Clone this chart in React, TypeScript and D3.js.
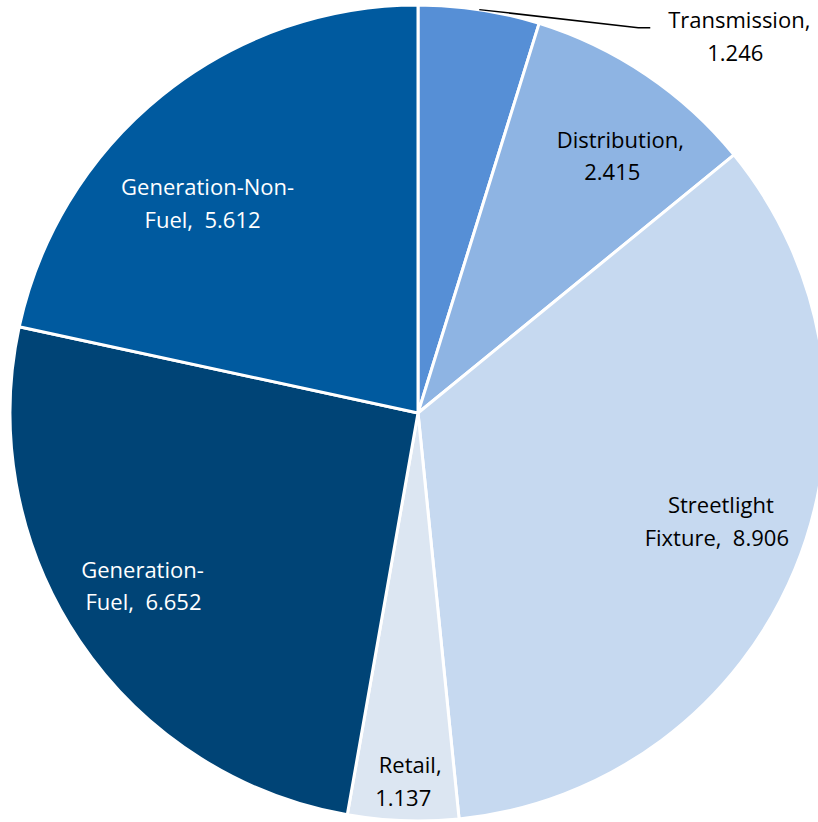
import React from "react";
import * as d3 from "d3";

const categories = ["Transmission", "Distribution", "Streetlight Fixture", "Retail", "Generation-Fuel", "Generation-Non-Fuel"];
const values = [1.246, 2.415, 8.906, 1.137, 6.652, 5.612];

const labelLines: string[][] = [
  ["Transmission,", "1.246"],
  ["Distribution,", "2.415"],
  ["Streetlight", "Fixture,  8.906"],
  ["Retail,", "1.137"],
  ["Generation-", "Fuel,  6.652"],
  ["Generation-Non-", "Fuel,  5.612"],
];
const colors = ["#568fd6", "#8eb4e3", "#c6d9f0", "#dce6f2", "#004476", "#005a9f"];
const textColors = ["#000", "#000", "#000", "#000", "#fff", "#fff"];

// layout: offsets of first baseline from label-arc centroid, and x shift of second line
const offsets: [number, number, number][] = [
  [0, 0, 0],
  [22, 2, -8],
  [5, -23, -4],
  [4, 38, -7],
  [-8, -15, 1],
  [-8, 33, -5],
];

const W = 818;
const H = 822;
const cx = 418;
const cy = 413;
const R = 408;

export default function App() {
  const pie = d3.pie<number>().sort(null).value((d) => d);
  const arcs = pie(values);
  const arc = d3.arc<d3.PieArcDatum<number>>().innerRadius(0).outerRadius(R);
  const labelArc = d3.arc<d3.PieArcDatum<number>>().innerRadius(0.79 * R * 2 - R).outerRadius(R);
  const fontFamily = "'Open Sans', sans-serif";
  const fs = 22;
  const lh = 32.5;

  const t = arcs[0];
  const tMid = (t.startAngle + t.endAngle) / 2;
  const lx0 = Math.sin(tMid) * R;
  const ly0 = -Math.cos(tMid) * R;
  const elbowX = lx0 + 159;
  const elbowY = ly0 + 18;
  const endX = elbowX + 12;

  return (
    <div style={{ position: "absolute", left: 0, top: 0 }}>
      <svg width={W} height={H} style={{ display: "block", background: "#fff" }}>
        <g transform={`translate(${cx},${cy})`}>
          {arcs.map((a, i) => (
            <path key={categories[i]} d={arc(a) || ""} fill={colors[i]} stroke="#fff" strokeWidth={3} strokeLinejoin="round" />
          ))}
          {arcs.map((a, i) => {
            if (i === 0) return null;
            const [x, y] = labelArc.centroid(a);
            const px = x + offsets[i][0];
            const py = y + offsets[i][1];
            return (
              <text key={"l" + i} y={py} textAnchor="middle" fontFamily={fontFamily} fontSize={fs} fill={textColors[i]} style={{ whiteSpace: "pre" }}>
                <tspan x={px}>{labelLines[i][0]}</tspan>
                <tspan x={px + offsets[i][2]} dy={lh}>{labelLines[i][1]}</tspan>
              </text>
            );
          })}
          <polyline points={`${lx0},${ly0} ${elbowX},${elbowY} ${endX},${elbowY}`} fill="none" stroke="#000" strokeWidth={1.5} />
          <text y={elbowY} textAnchor="middle" fontFamily={fontFamily} fontSize={fs} fill="#000" style={{ whiteSpace: "pre" }}>
            <tspan x={endX + 89}>{labelLines[0][0]}</tspan>
            <tspan x={endX + 85} dy={lh + 1}>{labelLines[0][1]}</tspan>
          </text>
        </g>
      </svg>
    </div>
  );
}
